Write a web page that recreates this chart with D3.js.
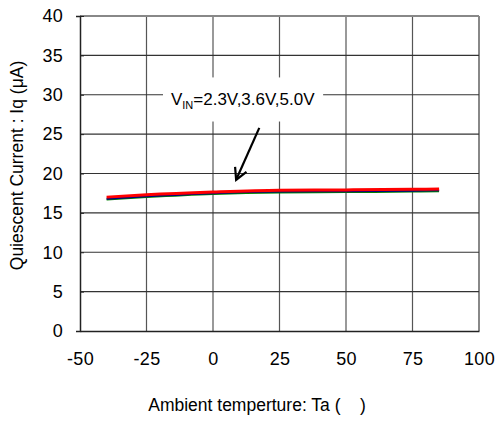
<!DOCTYPE html>
<html>
<head>
<meta charset="utf-8">
<script src="https://cdn.jsdelivr.net/npm/d3@7"></script>
<style>
  body { margin: 0; background: #fff; }
  text { font-family: Arial, "Liberation Sans", sans-serif; fill: #000; }
</style>
</head>
<body>
<svg id="chart" width="498" height="432"></svg>
<script>
const temps = [-40, -25, 0, 25, 50, 75, 85];
const iq_2v3 = [16.7, 17.0, 17.4, 17.6, 17.65, 17.7, 17.75];
const iq_3v6 = [16.8, 17.1, 17.5, 17.7, 17.75, 17.82, 17.87];
const iq_5v0 = [17.0, 17.3, 17.65, 17.88, 17.92, 18.0, 18.03];
const xTicks = [-50, -25, 0, 25, 50, 75, 100];
const yTicks = [0, 5, 10, 15, 20, 25, 30, 35, 40];
const seriesNames = ["2.3V", "3.6V", "5.0V"];
const seriesColors = ["#008000", "#000080", "#ff0000"];
const seriesWidths = [2, 2, 3];
const series = [iq_2v3, iq_3v6, iq_5v0];

const svg = d3.select("#chart");
const L = 80, R = 479, T = 16, B = 331;
const x = d3.scaleLinear().domain([-50, 100]).range([L, R]);
const y = d3.scaleLinear().domain([0, 40]).range([B, T]);

// grid
const g = svg.append("g");
g.selectAll(".vg").data(xTicks.slice(1)).join("line")
  .attr("x1", d => x(d)).attr("x2", d => x(d))
  .attr("y1", T).attr("y2", B)
  .attr("stroke", d => d === 100 ? "#888" : "#555").attr("stroke-width", d => d === 100 ? 2 : 1.2);
g.selectAll(".hg").data(yTicks.slice(1)).join("line")
  .attr("x1", L).attr("x2", R)
  .attr("y1", d => y(d)).attr("y2", d => y(d))
  .attr("stroke", d => d === 40 ? "#888" : "#333").attr("stroke-width", d => d === 40 ? 2 : 1.2);

// axes
const xAxis = d3.axisBottom(x).tickValues(xTicks).tickSize(0).tickFormat(d => String(d));
const ax = svg.append("g").attr("transform", `translate(0,${B})`).call(xAxis);
ax.attr("font-size", null).attr("font-family", null);
ax.select(".domain").attr("stroke", "#222").attr("stroke-width", 1.5);
ax.selectAll("text").style("font-size", "18px").attr("letter-spacing", "0.3px")
  .attr("fill", "#000").attr("dy", "0.35em").attr("y", 28);

const yAxis = d3.axisLeft(y).tickValues(yTicks).tickSize(4).tickPadding(13).tickFormat(d => String(d));
const ay = svg.append("g").attr("transform", `translate(${L},0)`).call(yAxis);
ay.attr("font-size", null).attr("font-family", null);
ay.select(".domain").attr("stroke", "#222").attr("stroke-width", 1.5);
ay.selectAll(".tick line").attr("stroke", "#222").attr("x2", 4);
ay.selectAll("text").style("font-size", "18px").attr("letter-spacing", "0.3px").attr("fill", "#000");

// annotation box (white background)
const bx0 = x(-18.8), bx1 = x(41.4), by0 = y(32.2), by1 = y(26.6);
svg.append("rect").attr("x", bx0).attr("y", by0).attr("width", bx1 - bx0).attr("height", by1 - by0).attr("fill", "#fff");
const ann = svg.append("text").attr("x", x(-15.8)).attr("y", y(29.4) + 6).style("font-size", "17px");
ann.append("tspan").text("V");
ann.append("tspan").style("font-size", "11px").attr("dy", 4).text("IN");
ann.append("tspan").attr("dy", -4).text("=" + seriesNames.join(","));

// arrow
const ax0 = x(17.4), ay0 = y(25.8), ax1 = x(8.7), ay1 = y(19.2);
const ang = Math.atan2(ay1 - ay0, ax1 - ax0);
svg.append("line").attr("x1", ax0).attr("y1", ay0).attr("x2", ax1).attr("y2", ay1)
  .attr("stroke", "#000").attr("stroke-width", 2.2);
const hl = 13, ha = 0.5;
svg.append("path")
  .attr("d", `M${ax1 - hl * Math.cos(ang - ha)},${ay1 - hl * Math.sin(ang - ha)} L${ax1},${ay1} L${ax1 - hl * Math.cos(ang + ha)},${ay1 - hl * Math.sin(ang + ha)}`)
  .attr("fill", "none").attr("stroke", "#000").attr("stroke-width", 2.2);

// lines
const line = d3.line().x((d, i) => x(temps[i])).y(d => y(d)).curve(d3.curveMonotoneX);
svg.selectAll(".series").data(series).join("path")
  .attr("d", d => line(d))
  .attr("fill", "none")
  .attr("stroke", (d, i) => seriesColors[i])
  .attr("stroke-width", (d, i) => seriesWidths[i]);

// axis titles
svg.append("text").attr("transform", `translate(23,${(T + B) / 2 - 8}) rotate(-90)`)
  .attr("text-anchor", "middle").style("font-size", "17.5px").text("Quiescent Current : Iq (μA)");
svg.append("text").attr("x", 257).attr("y", 411)
  .attr("text-anchor", "middle").style("font-size", "17.5px").style("white-space", "pre")
  .text("Ambient temperture: Ta (\u00a0\u00a0\u00a0\u00a0)");
</script>
</body>
</html>
